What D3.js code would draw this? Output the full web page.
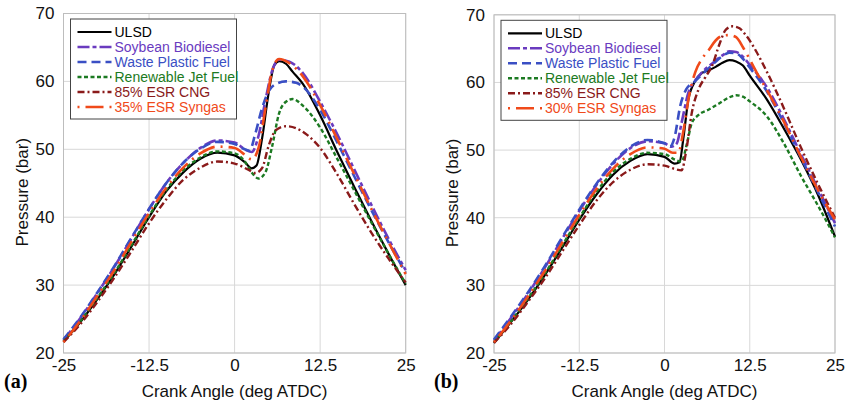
<!DOCTYPE html>
<html>
<head>
<meta charset="utf-8">
<script src="https://cdn.jsdelivr.net/npm/d3@7"></script>
<style>
  body { margin: 0; background: #fff; }
  text { font-family: Arial, "Liberation Sans", sans-serif; }
  text.tag { font-family: "Liberation Serif", "Times New Roman", serif; font-weight: bold; }
</style>
</head>
<body>
<script>
// Tick values shared by both panels.
const xTicks = [-25, -12.5, 0, 12.5, 25];
const yTicks = [20, 30, 40, 50, 60, 70];

const seriesNames = ["ULSD", "Soybean Biodiesel", "Waste Plastic Fuel", "Renewable Jet Fuel", "85% ESR CNG"];
const syngasNameA = "35% ESR Syngas";
const syngasNameB = "30% ESR Syngas";

// Panel (a): [crank angle, pressure]
const ulsdA = [[-25,21.7],[-22.5,24.6],[-20,28.0],[-17.5,31.7],[-15,35.8],[-12.5,40.0],[-10,43.8],[-7.5,46.6],[-5,48.6],[-2.5,49.5],[0,49.1],[1.5,48.1],[2.5,47.2],[3.2,47.6],[4,51.5],[5,58.5],[5.8,62.4],[6.5,63.0],[7.5,62.6],[8.5,61.4],[10,59.6],[12.5,55.0],[15,49.6],[17.5,44.4],[20,39.4],[22.5,34.6],[25,30.0]];
const soyA = [[-25,21.9],[-22.5,25.2],[-20,28.9],[-17.5,32.8],[-15,37.0],[-12.5,41.2],[-10,45.0],[-7.5,48.0],[-5,50.2],[-2.5,51.3],[0,51.0],[1.5,50.0],[2.5,49.6],[3.5,52.0],[4.5,57.2],[5.5,61.6],[6.5,63.2],[8,62.9],[10,61.2],[12.5,57.0],[15,52.2],[17.5,47.0],[20,41.8],[22.5,36.8],[25,32.2]];
const wasteA = [[-25,22.0],[-22.5,25.3],[-20,29.0],[-17.5,32.9],[-15,37.1],[-12.5,41.2],[-10,45.0],[-7.5,48.0],[-5,50.1],[-2.5,51.1],[0,50.8],[1.5,50.0],[2.2,49.8],[3,52.2],[4,56.0],[5,58.6],[6,59.6],[7.5,60.0],[9,59.8],[10,59.2],[12.5,55.8],[15,51.0],[17.5,46.0],[20,41.0],[22.5,36.3],[25,31.8]];
const jetA = [[-25,21.7],[-22.5,24.7],[-20,28.2],[-17.5,31.9],[-15,36.0],[-12.5,40.2],[-10,44.0],[-7.5,46.9],[-5,48.8],[-2.5,49.7],[0,49.4],[1.5,48.2],[2.5,46.6],[3.5,45.7],[4.5,46.6],[5.5,50.5],[6.5,55.3],[7.5,57.0],[8.5,57.4],[10,56.4],[12.5,53.2],[15,48.6],[17.5,43.9],[20,39.2],[22.5,34.6],[25,30.2]];
const cngA = [[-25,21.6],[-22.5,24.3],[-20,27.6],[-17.5,31.2],[-15,35.1],[-12.5,39.1],[-10,42.6],[-7.5,45.5],[-5,47.3],[-2.5,48.2],[0,47.9],[2,47.0],[3,46.5],[4,47.2],[5,50.6],[6,52.8],[7.5,53.4],[9,53.1],[10.5,52.2],[12.5,50.2],[15,46.3],[17.5,41.9],[20,37.7],[22.5,33.9],[25,30.4]];
const syngasA = [[-25,21.6],[-22.5,24.8],[-20,28.5],[-17.5,32.3],[-15,36.5],[-12.5,40.6],[-10,44.3],[-7.5,47.3],[-5,49.4],[-2.5,50.4],[0,50.2],[1.5,49.2],[2.5,48.5],[3.5,50.2],[4.5,56.0],[5.5,61.6],[6.5,63.3],[8,62.7],[10,60.7],[12.5,56.5],[15,51.5],[17.5,46.3],[20,41.2],[22.5,36.3],[25,31.6]];

// Panel (b)
const ulsdB = [[-25,21.5],[-22.5,24.6],[-20,27.9],[-17.5,31.6],[-15,35.6],[-12.5,39.7],[-10,43.4],[-7.5,46.4],[-5,48.4],[-2.5,49.4],[0,49.0],[1.5,48.0],[2.2,48.2],[2.8,52.0],[3.5,57.5],[4.5,60.2],[5.5,61.4],[6.5,61.8],[7.5,62.3],[8.5,62.9],[9.5,63.3],[10.5,63.1],[11.5,62.5],[12.5,61.0],[15,57.5],[17.5,53.2],[20,48.6],[22.5,43.4],[25,37.2]];
const soyB = [[-25,21.8],[-22.5,25.2],[-20,28.8],[-17.5,32.7],[-15,36.9],[-12.5,41.0],[-10,44.8],[-7.5,48.0],[-5,50.3],[-2.5,51.3],[0,51.0],[1,50.5],[1.8,51.0],[2.5,54.0],[3.5,58.5],[4.5,60.3],[5.5,61.5],[7,62.8],[8.5,64.0],[9.5,64.6],[10.5,64.5],[11.5,63.8],[12.5,62.6],[15,59.3],[17.5,54.6],[20,49.4],[22.5,44.3],[25,39.2]];
const wasteB = [[-25,22.0],[-22.5,25.4],[-20,29.0],[-17.5,32.9],[-15,37.1],[-12.5,41.2],[-10,45.0],[-7.5,48.2],[-5,50.5],[-2.5,51.5],[0,51.0],[0.8,50.5],[1.5,52.0],[2.3,56.5],[3.2,59.0],[4.5,60.2],[5.5,61.2],[7,62.6],[8.5,63.9],[9.5,64.4],[10.5,64.3],[11.5,63.5],[12.5,62.2],[15,58.7],[17.5,54.0],[20,48.9],[22.5,43.8],[25,38.7]];
const jetB = [[-25,21.6],[-22.5,24.7],[-20,28.1],[-17.5,31.8],[-15,35.9],[-12.5,40.0],[-10,43.8],[-7.5,46.8],[-5,48.7],[-2.5,49.6],[0,49.4],[1.5,48.6],[2.5,48.3],[3.3,51.0],[4,54.0],[5,55.2],[6.5,56.0],[8,56.9],[9.5,57.8],[10.5,58.1],[11.5,57.9],[12.5,57.2],[15,55.0],[17.5,51.0],[20,46.2],[22.5,41.8],[25,37.1]];
const cngB = [[-25,21.5],[-22.5,24.3],[-20,27.6],[-17.5,31.1],[-15,35.0],[-12.5,38.9],[-10,42.5],[-7.5,45.3],[-5,47.1],[-2.5,47.9],[0,47.7],[1.5,47.2],[2.5,47.0],[3.2,50.0],[4,55.5],[5,59.0],[6,60.8],[7,62.5],[8,65.5],[9,67.8],[10,68.3],[11,68.0],[12,66.9],[13.5,64.5],[15,61.6],[17.5,56.2],[20,50.4],[22.5,45.0],[25,40.0]];
const syngasB = [[-25,21.6],[-22.5,24.8],[-20,28.4],[-17.5,32.2],[-15,36.3],[-12.5,40.4],[-10,44.2],[-7.5,47.3],[-5,49.4],[-2.5,50.4],[0,50.2],[1.2,49.6],[2,49.6],[2.8,53.0],[3.6,58.0],[4.5,61.5],[5.5,63.5],[6.5,64.8],[7.5,66.2],[8.5,66.9],[9.5,67.0],[10.5,66.7],[11.5,65.2],[13.5,61.5],[15,58.9],[17.5,54.2],[20,49.0],[22.5,44.1],[25,39.7]];

// line styles, same order as the legend
const styles = [
    {color: "#000000", dash: null, width: 2.2},
    {color: "#6a3bbf", dash: "12,3,4,3", width: 2.6},
    {color: "#3a4fc4", dash: "9,5", width: 2.6},
    {color: "#1c7a22", dash: "4,2.5", width: 2.4},
    {color: "#8a1a1a", dash: "7,3,2,3", width: 2.4},
    {color: "#f04a1a", dash: "2,6,18,6", width: 2.6},
];

const width = 847;
const height = 407;

const svg = d3.select('body').append('svg')
    .attr('width', width)
    .attr('height', height);

const panels = [
    {left: 63.5, right: 405.7, top: 13.5, bottom: 353, tag: "(a)", tagX: 4,
     data: [ulsdA, soyA, wasteA, jetA, cngA, syngasA], names: seriesNames.concat([syngasNameA])},
    {left: 494, right: 835, top: 14.8, bottom: 353, tag: "(b)", tagX: 434,
     data: [ulsdB, soyB, wasteB, jetB, cngB, syngasB], names: seriesNames.concat([syngasNameB])},
];

const drawPanel = (p) => {
    const x = d3.scaleLinear().domain([-25, 25]).range([p.left, p.right]);
    const y = d3.scaleLinear().domain([20, 70]).range([p.bottom, p.top]);
    const g = svg.append('g');

    // grid
    g.selectAll('.vgrid').data(xTicks).join('line')
        .attr('x1', d => x(d)).attr('x2', d => x(d))
        .attr('y1', p.top).attr('y2', p.bottom)
        .attr('stroke', '#d8d8d8').attr('stroke-width', 1);
    g.selectAll('.hgrid').data(yTicks).join('line')
        .attr('x1', p.left).attr('x2', p.right)
        .attr('y1', d => y(d)).attr('y2', d => y(d))
        .attr('stroke', '#d8d8d8').attr('stroke-width', 1);
    g.append('rect')
        .attr('x', p.left).attr('y', p.top)
        .attr('width', p.right - p.left).attr('height', p.bottom - p.top)
        .attr('fill', 'none').attr('stroke', '#bdbdbd');

    // Left axis
    const yAxis = g.append('g')
        .attr('transform', `translate(${p.left},0)`)
        .call(d3.axisLeft(y).tickValues(yTicks).tickSize(0).tickPadding(9));
    yAxis.select('.domain').remove();
    yAxis.selectAll('text').attr('font-size', 17).attr('fill', '#111');

    // Bottom axis
    const xAxis = g.append('g')
        .attr('transform', `translate(0,${p.bottom})`)
        .call(d3.axisBottom(x).tickValues(xTicks).tickFormat(d => String(d)).tickSize(0).tickPadding(6));
    xAxis.select('.domain').remove();
    xAxis.selectAll('text').attr('font-size', 17).attr('fill', '#111');

    // axis titles
    g.append('text')
        .attr('x', (p.left + p.right) / 2).attr('y', 397)
        .attr('text-anchor', 'middle').attr('font-size', 17).attr('fill', '#111')
        .text('Crank Angle (deg ATDC)');
    g.append('text')
        .attr('transform', `translate(${p.left - 36},${(p.top + p.bottom) / 2 + 9}) rotate(-90)`)
        .attr('text-anchor', 'middle').attr('font-size', 17).attr('fill', '#111')
        .text('Pressure (bar)');
    g.append('text')
        .attr('class', 'tag')
        .attr('x', p.tagX).attr('y', 388)
        .attr('font-size', 20)
        .text(p.tag);

    // curves
    const line = d3.line()
        .x(d => x(d[0]))
        .y(d => y(d[1]))
        .curve(d3.curveMonotoneX);

    g.selectAll('.curve').data(p.data).join('path')
        .attr('d', line)
        .attr('fill', 'none')
        .attr('stroke', (d, i) => styles[i].color)
        .attr('stroke-width', (d, i) => styles[i].width)
        .attr('stroke-dasharray', (d, i) => styles[i].dash);

    // legend
    const lx = p.left + 7, ly = p.top + 5.5;
    const legend = g.append('g').attr('transform', `translate(${lx},${ly})`);
    legend.append('rect')
        .attr('width', 166).attr('height', 100)
        .attr('fill', '#fff').attr('stroke', '#444').attr('stroke-width', 1);
    const rows = legend.selectAll('.row').data(p.names).join('g')
        .attr('transform', (d, i) => `translate(0,${13 + i * 15})`);
    rows.append('line')
        .attr('x1', 7).attr('x2', 41)
        .attr('stroke', (d, i) => styles[i].color)
        .attr('stroke-width', (d, i) => styles[i].width)
        .attr('stroke-dasharray', (d, i) => styles[i].dash);
    rows.append('text')
        .attr('x', 44).attr('y', 5)
        .attr('font-size', 14)
        .attr('fill', (d, i) => styles[i].color)
        .text(d => d);
};

panels.forEach(drawPanel);
</script>
</body>
</html>
